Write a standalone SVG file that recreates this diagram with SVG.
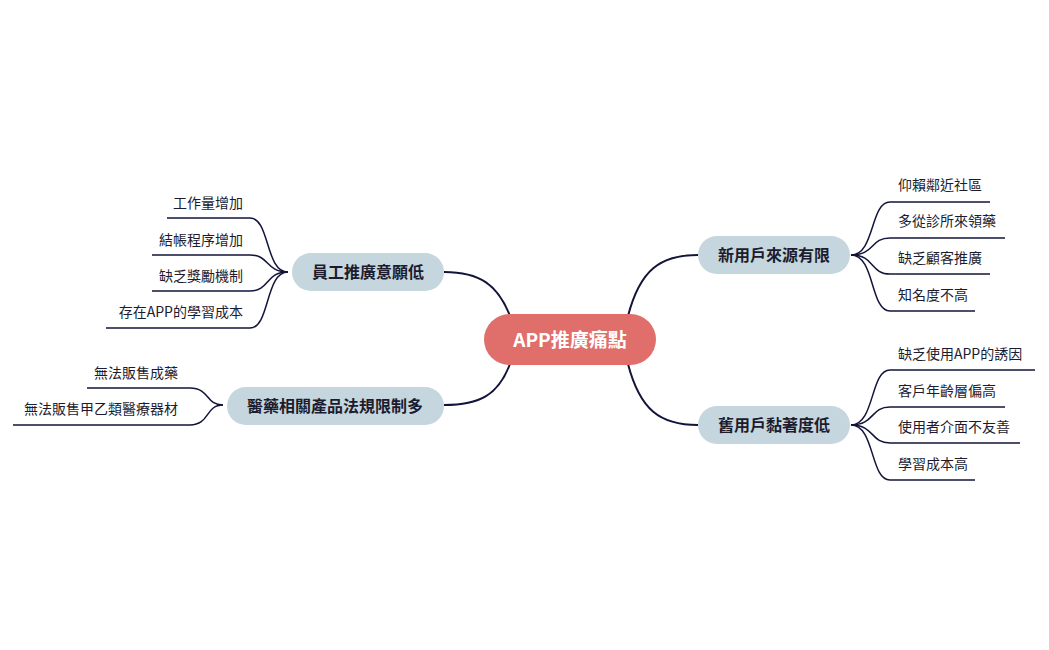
<svg xmlns="http://www.w3.org/2000/svg" width="1049" height="650" viewBox="0 0 1049 650">
<style>
text{font-family:"Noto Sans CJK TC","Noto Sans",sans-serif;fill:#1c1c2e}
.leaf{font-size:14px}
.node{font-size:16px;font-weight:bold}
.pill{fill:#c5d6de}
.main{fill:none;stroke:#13143a;stroke-width:2}
.sub{fill:none;stroke:#13143a;stroke-width:1.5}
</style>
<rect width="1049" height="650" fill="#fff"/>
<g id="connectors">
<path class="main" d="M628,316 C640,270 660,255 698,255"/>
<path class="main" d="M628,364 C640,410 660,425 698,425"/>
<path class="main" d="M510,316 C498,285 480,272 444,272"/>
<path class="main" d="M510,364 C498,395 480,405 444,405"/>
<path class="sub" d="M851,255 C875,255 870,202 890,202 H990"/>
<path class="sub" d="M851,255 C875,255 870,238 890,238 H1005"/>
<path class="sub" d="M851,255 C875,255 870,274 890,274 H990"/>
<path class="sub" d="M851,255 C875,255 870,311 890,311 H975"/>
<path class="sub" d="M851,425 C875,425 870,370 890,370 H1035"/>
<path class="sub" d="M851,425 C875,425 870,407 890,407 H1005"/>
<path class="sub" d="M851,425 C875,425 870,443 890,443 H1020"/>
<path class="sub" d="M851,425 C875,425 870,480 890,480 H975"/>
<path class="sub" d="M288,272 C265,272 270,218 250,218 H167"/>
<path class="sub" d="M288,272 C265,272 270,255 250,255 H152"/>
<path class="sub" d="M288,272 C265,272 270,291 250,291 H152"/>
<path class="sub" d="M288,272 C265,272 270,328 250,328 H106"/>
<path class="sub" d="M223,405 C205,405 210,388 190,388 H87"/>
<path class="sub" d="M223,405 C205,405 210,425 190,425 H13"/>
</g>
<g id="center"><rect x="484" y="314" width="172" height="51" rx="25.5" fill="#e06f6c"/><text x="570" y="347" text-anchor="middle" style="font-size:19px;font-weight:bold;fill:#fff">APP推廣痛點</text></g>
<g id="n1"><rect class="pill" x="698" y="236" width="152" height="38" rx="19"/><text class="node" x="774" y="261" text-anchor="middle">新用戶來源有限</text></g>
<g id="n2"><rect class="pill" x="698" y="406" width="152" height="38" rx="19"/><text class="node" x="774" y="431" text-anchor="middle">舊用戶黏著度低</text></g>
<g id="n3"><rect class="pill" x="292" y="253" width="152" height="38" rx="19"/><text class="node" x="368" y="278" text-anchor="middle">員工推廣意願低</text></g>
<g id="n4"><rect class="pill" x="227" y="387" width="217" height="38" rx="19"/><text class="node" x="335" y="412" text-anchor="middle">醫藥相關產品法規限制多</text></g>
<g id="leaves-r1" class="leaf">
<text class="leaf" x="898" y="190">仰賴鄰近社區</text>
<text class="leaf" x="898" y="226">多從診所來領藥</text>
<text class="leaf" x="898" y="263">缺乏顧客推廣</text>
<text class="leaf" x="898" y="300">知名度不高</text>
</g>
<g id="leaves-r2">
<text class="leaf" x="898" y="359">缺乏使用APP的誘因</text>
<text class="leaf" x="898" y="396">客戶年齡層偏高</text>
<text class="leaf" x="898" y="432">使用者介面不友善</text>
<text class="leaf" x="898" y="469">學習成本高</text>
</g>
<g id="leaves-l1">
<text class="leaf" x="243" y="208" text-anchor="end">工作量增加</text>
<text class="leaf" x="243" y="245" text-anchor="end">結帳程序增加</text>
<text class="leaf" x="243" y="281" text-anchor="end">缺乏獎勵機制</text>
<text class="leaf" x="243" y="317" text-anchor="end">存在APP的學習成本</text>
</g>
<g id="leaves-l2">
<text class="leaf" x="178" y="378" text-anchor="end">無法販售成藥</text>
<text class="leaf" x="178" y="414" text-anchor="end">無法販售甲乙類醫療器材</text>
</g>
</svg>
